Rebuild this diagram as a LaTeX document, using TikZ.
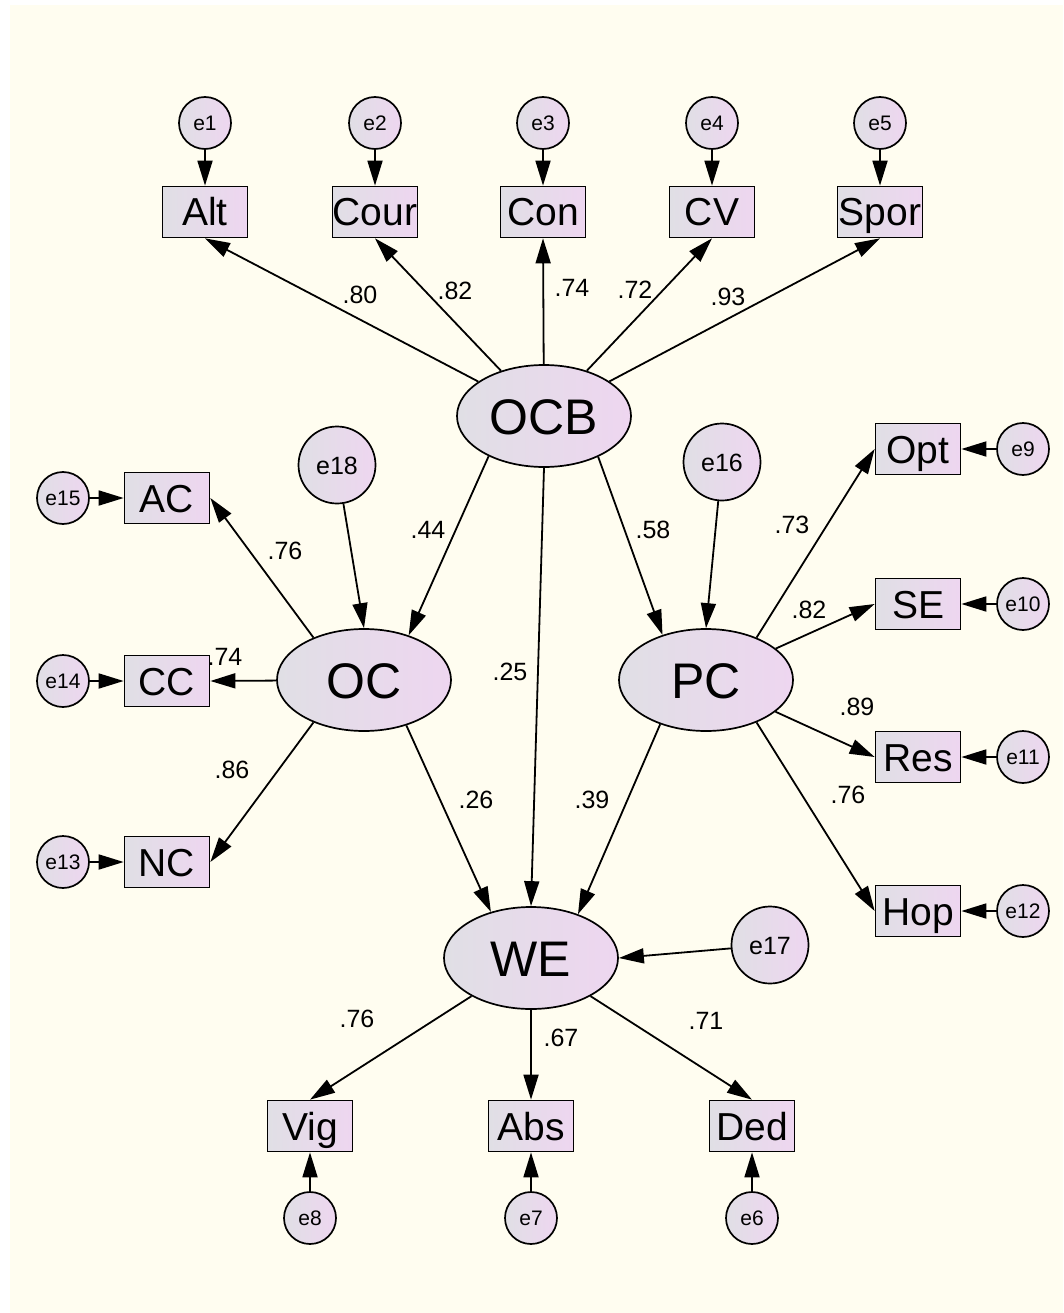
\documentclass[tikz,border=0pt]{standalone}
\usepackage{fontspec}
\setmainfont{Liberation Sans}
\usepackage{xcolor}
\usepackage{tikz}
\usetikzlibrary{shapes.geometric}
\usetikzlibrary{arrows.meta}

\definecolor{paper}{RGB}{255,253,240}
\definecolor{fillL}{RGB}{224,223,229}
\definecolor{fillR}{RGB}{238,214,240}

\begin{document}
\begin{tikzpicture}[x=1pt, y=-1pt,
        shade/.style={draw, line width=1.7pt, left color=fillL, right color=fillR, inner sep=0pt},
        latent/.style={shade, ellipse, minimum width=174pt, minimum height=102pt,
            text height=36pt, text depth=0pt, font=\fontsize{50}{50}\selectfont},
        obs/.style={shade, rectangle, minimum width=85pt, minimum height=51pt,
            text height=28pt, text depth=0pt, font=\fontsize{39}{39}\selectfont},
        err/.style={shade, circle, minimum size=52pt, text height=15pt, text depth=0pt,
            font=\fontsize{21}{21}\selectfont},
        bigerr/.style={err, minimum size=77pt, text height=18pt, font=\fontsize{25}{25}\selectfont},
        coef/.style={inner sep=0pt, font=\fontsize{25}{25}\selectfont},
        arr/.style={line width=1.8pt, -{Triangle[length=25pt, width=15pt]}}]
        \useasboundingbox (0, 0) rectangle (1063, 1313);
        \fill[white] (0, 0) rectangle (1063, 1313);
        \fill[paper] (10, 5) rectangle (1063, 1313);

        % loadings and paths
        \node[coef] (c1) at (360, 295) {.80};
        \node[coef] (c2) at (455, 291) {.82};
        \node[coef] (c3) at (572, 288) {.74};
        \node[coef] (c4) at (635, 290) {.72};
        \node[coef] (c5) at (728, 297) {.93};
        \node[coef] (c6) at (428, 530) {.44};
        \node[coef] (c7) at (653, 530) {.58};
        \node[coef] (c8) at (510, 672) {.25};
        \node[coef] (c9) at (285, 551) {.76};
        \node[coef] (c10) at (225, 657) {.74};
        \node[coef] (c11) at (232, 770) {.86};
        \node[coef] (c12) at (476, 800) {.26};
        \node[coef] (c13) at (592, 800) {.39};
        \node[coef] (c14) at (792, 525) {.73};
        \node[coef] (c15) at (809, 610) {.82};
        \node[coef] (c16) at (857, 707) {.89};
        \node[coef] (c17) at (848, 795) {.76};
        \node[coef] (c18) at (357, 1019) {.76};
        \node[coef] (c19) at (561, 1038) {.67};
        \node[coef] (c20) at (706, 1021) {.71};

        % latent variables
        \node[latent] (OCB) at (544, 416) {OCB};
        \node[latent] (OC) at (364, 680) {OC};
        \node[latent] (PC) at (706, 680) {PC};
        \node[latent] (WE) at (531, 958) {WE};

        % indicators
        \node[obs] (Alt) at (205, 212) {Alt};
        \node[obs] (Cour) at (375, 212) {Cour};
        \node[obs] (Con) at (543, 212) {Con};
        \node[obs] (CV) at (712, 212) {CV};
        \node[obs] (Spor) at (880, 212) {Spor};
        \node[obs] (AC) at (167, 498) {AC};
        \node[obs] (CC) at (167, 681) {CC};
        \node[obs] (NC) at (167, 862) {NC};
        \node[obs] (Opt) at (918, 449) {Opt};
        \node[obs] (SE) at (918, 604) {SE};
        \node[obs] (Res) at (918, 757) {Res};
        \node[obs] (Hop) at (918, 911) {Hop};
        \node[obs] (Vig) at (310, 1126) {Vig};
        \node[obs] (Abs) at (531, 1126) {Abs};
        \node[obs] (Ded) at (752, 1126) {Ded};

        % error terms
        \node[err] (e1) at (205, 123) {e1};
        \node[err] (e2) at (375, 123) {e2};
        \node[err] (e3) at (543, 123) {e3};
        \node[err] (e4) at (712, 123) {e4};
        \node[err] (e5) at (880, 123) {e5};
        \node[err] (e15) at (63, 498) {e15};
        \node[err] (e14) at (63, 681) {e14};
        \node[err] (e13) at (63, 862) {e13};
        \node[err] (e9) at (1023, 449) {e9};
        \node[err] (e10) at (1023, 604) {e10};
        \node[err] (e11) at (1023, 757) {e11};
        \node[err] (e12) at (1023, 911) {e12};
        \node[err] (e8) at (310, 1218) {e8};
        \node[err] (e7) at (531, 1218) {e7};
        \node[err] (e6) at (752, 1218) {e6};
        \node[bigerr] (e18) at (337, 465) {e18};
        \node[bigerr] (e16) at (722, 462) {e16};
        \node[bigerr] (e17) at (770, 945) {e17};

        \draw[arr] (OCB) -- (Alt.south);
        \draw[arr] (OCB) -- (Cour.south);
        \draw[arr] (OCB) -- (Con.south);
        \draw[arr] (OCB) -- (CV.south);
        \draw[arr] (OCB) -- (Spor.south);
        \draw[arr] (OCB.216) -- (OC.45);
        \draw[arr] (OCB.323) -- (PC.134);
        \draw[arr] (OCB.south) -- (WE.north);
        \draw[arr] (OC.313) -- (WE.131);
        \draw[arr] (PC.224) -- (WE.43);
        \draw[arr] (OC.140) -- (AC.east);
        \draw[arr] (OC) -- (CC.east);
        \draw[arr] (OC.220) -- (NC.east);
        \draw[arr] (PC.40) -- (Opt.west);
        \draw[arr] (PC) -- (SE.west);
        \draw[arr] (PC) -- (Res.west);
        \draw[arr] (PC.320) -- (Hop.west);
        \draw[arr] (WE) -- (Vig.north);
        \draw[arr] (WE) -- (Abs.north);
        \draw[arr] (WE) -- (Ded.north);

        \draw[arr] (e1) -- (Alt);
        \draw[arr] (e2) -- (Cour);
        \draw[arr] (e3) -- (Con);
        \draw[arr] (e4) -- (CV);
        \draw[arr] (e5) -- (Spor);
        \draw[arr] (e15) -- (AC);
        \draw[arr] (e14) -- (CC);
        \draw[arr] (e13) -- (NC);
        \draw[arr] (e9) -- (Opt);
        \draw[arr] (e10) -- (SE);
        \draw[arr] (e11) -- (Res);
        \draw[arr] (e12) -- (Hop);
        \draw[arr] (e8) -- (Vig);
        \draw[arr] (e7) -- (Abs);
        \draw[arr] (e6) -- (Ded);
        \draw[arr] (e18) -- (OC.north);
        \draw[arr] (e16) -- (PC.north);
        \draw[arr] (e17) -- (WE.east);
    \end{tikzpicture}
\end{document}
